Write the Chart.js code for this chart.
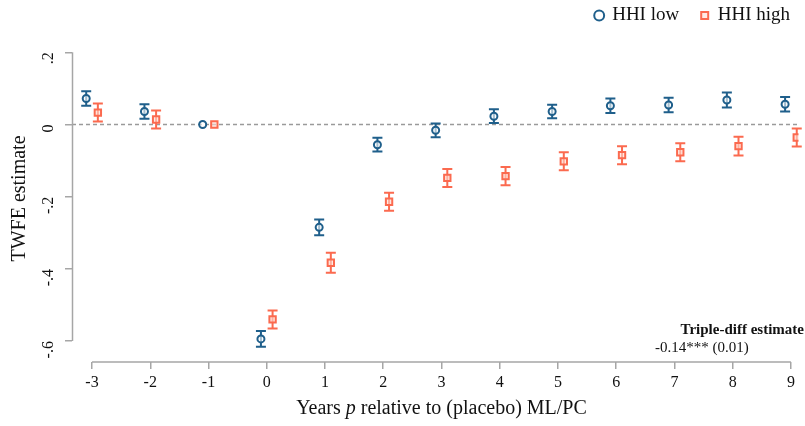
<!DOCTYPE html>
<html>
<head>
<meta charset="utf-8">
<script src="https://cdn.jsdelivr.net/npm/chart.js@4"></script>
<style>
  html, body { margin: 0; padding: 0; background: #fff; }
  #wrap { width: 805px; height: 426px; }
</style>
</head>
<body>
<div id="wrap"><canvas id="evtCanvas"></canvas></div>
<script>
const years = [-3, -2, -1, 0, 1, 2, 3, 4, 5, 6, 7, 8, 9];

// HHI low
const lowEst = [0.072, 0.036, 0, -0.594, -0.285, -0.056, -0.016, 0.023, 0.036, 0.052, 0.054, 0.068, 0.056];
const lowLo = [0.052, 0.016, 0, -0.616, -0.307, -0.075, -0.035, 0.004, 0.017, 0.032, 0.034, 0.047, 0.036];
const lowHi = [0.092, 0.056, 0, -0.572, -0.263, -0.037, 0.003, 0.042, 0.055, 0.072, 0.074, 0.089, 0.076];

// HHI high
const highEst = [0.033, 0.014, 0, -0.540, -0.383, -0.214, -0.148, -0.143, -0.102, -0.085, -0.077, -0.060, -0.036];
const highLo = [0.008, -0.011, 0, -0.565, -0.411, -0.239, -0.173, -0.168, -0.127, -0.110, -0.102, -0.086, -0.061];
const highHi = [0.058, 0.039, 0, -0.515, -0.355, -0.189, -0.123, -0.118, -0.077, -0.060, -0.052, -0.034, -0.011];

const xTicks = [-3, -2, -1, 0, 1, 2, 3, 4, 5, 6, 7, 8, 9];
const yTicks = [0.2, 0, -0.2, -0.4, -0.6];
const yTickLabels = [".2", "0", "-.2", "-.4", "-.6"];

const BLUE = "#1f5f8b";
const RED = "#fb6a4f";
const GREY = "#a6a6a6";
const SERIF = "'Liberation Serif', 'DejaVu Serif', serif";

const errorBars = {
  id: "errorBars",
  beforeDatasetsDraw(chart) {
    const { ctx, scales: { x, y }, chartArea } = chart;
    ctx.save();
    // zero line
    ctx.strokeStyle = "#9a9a9a";
    ctx.lineWidth = 1.3;
    ctx.setLineDash([4, 3]);
    ctx.beginPath();
    ctx.moveTo(chartArea.left, y.getPixelForValue(0));
    ctx.lineTo(Math.min(chartArea.right, chart.width - 5), y.getPixelForValue(0));
    ctx.stroke();
    ctx.setLineDash([]);

    chart.data.datasets.forEach((ds) => {
      ctx.strokeStyle = ds.borderColor;
      ctx.lineWidth = 2;
      ds.data.forEach((p) => {
        if (p.lo === p.hi) return;
        const px = x.getPixelForValue(p.x);
        const y1 = y.getPixelForValue(p.lo);
        const y2 = y.getPixelForValue(p.hi);
        ctx.beginPath();
        ctx.moveTo(px, y1);
        ctx.lineTo(px, y2);
        ctx.moveTo(px - 5, y1);
        ctx.lineTo(px + 5, y1);
        ctx.moveTo(px - 5, y2);
        ctx.lineTo(px + 5, y2);
        ctx.stroke();
      });
    });
    ctx.restore();
  },
  afterDraw(chart) {
    const { ctx, scales: { x, y }, chartArea } = chart;
    ctx.save();

    // axis lines only across the tick range
    const ax = Math.round(chartArea.left) + 0.5;
    ctx.strokeStyle = GREY;
    ctx.lineWidth = 1.5;
    ctx.beginPath();
    ctx.moveTo(ax, y.getPixelForValue(yTicks[0]));
    ctx.lineTo(ax, y.getPixelForValue(yTicks[yTicks.length - 1]));
    ctx.moveTo(x.getPixelForValue(xTicks[0]), chartArea.bottom);
    ctx.lineTo(x.getPixelForValue(xTicks[xTicks.length - 1]), chartArea.bottom);
    ctx.stroke();

    ctx.fillStyle = "#111";
    ctx.textBaseline = "middle";

    // x title with italic p
    const parts = [
      ["Years ", "20px " + SERIF],
      ["p", "italic 20px " + SERIF],
      [" relative to (placebo) ML/PC", "20px " + SERIF],
    ];
    let total = 0;
    parts.forEach(([t, f]) => { ctx.font = f; total += ctx.measureText(t).width; });
    let cx = (x.getPixelForValue(xTicks[0]) + x.getPixelForValue(xTicks[xTicks.length - 1])) / 2 - total / 2;
    ctx.textAlign = "left";
    parts.forEach(([t, f]) => {
      ctx.font = f;
      ctx.fillText(t, cx, 409);
      cx += ctx.measureText(t).width;
    });

    // triple-diff note
    ctx.textAlign = "right";
    ctx.font = "bold 15px " + SERIF;
    ctx.fillText("Triple-diff estimate", chart.width - 1, 330);
    ctx.textAlign = "left";
    ctx.font = "15px " + SERIF;
    ctx.fillText("-0.14*** (0.01)", 655, 348);
    ctx.restore();
  },
};

const config = {
  type: "scatter",
  data: {
    datasets: [
      {
        label: "HHI low",
        data: years.map((yr, i) => ({ x: yr - 0.1, y: lowEst[i], lo: lowLo[i], hi: lowHi[i] })),
        borderColor: BLUE,
        backgroundColor: "rgba(255,255,255,0.6)",
        pointStyle: "circle",
        pointRadius: 3.5,
        pointBorderWidth: 2,
      },
      {
        label: "HHI high",
        data: years.map((yr, i) => ({ x: yr + 0.1, y: highEst[i], lo: highLo[i], hi: highHi[i] })),
        borderColor: RED,
        backgroundColor: "rgba(255,220,210,0.6)",
        pointStyle: "rect",
        pointRadius: 4.5,
        pointBorderWidth: 2,
      },
    ],
  },
  options: {
    responsive: true,
    maintainAspectRatio: false,
    animation: false,
    layout: { padding: { left: 0, right: -7, top: -16, bottom: 0 } },
    plugins: {
      tooltip: { enabled: false },
      legend: {
        position: "top",
        align: "end",
        labels: {
          usePointStyle: true,
          boxWidth: 7,
          boxHeight: 7,
          padding: 22,
          color: "#111",
          font: { family: SERIF, size: 19 },
        },
      },
    },
    scales: {
      x: {
        type: "linear",
        min: -3.344,
        max: 9.13,
        afterBuildTicks: (scale) => { scale.ticks = xTicks.map((v) => ({ value: v })); },
        afterFit: (scale) => { scale.height = 64; },
        border: { display: false },
        grid: { drawOnChartArea: false, drawTicks: true, tickLength: 7, color: GREY, lineWidth: 1.5 },
        ticks: {
          color: "#111",
          padding: 4,
          maxRotation: 0,
          font: { family: SERIF, size: 16 },
          callback: (v) => String(v),
        },
      },
      y: {
        min: -0.658,
        max: 0.248,
        afterBuildTicks: (scale) => { scale.ticks = yTicks.map((v) => ({ value: v })); },
        afterFit: (scale) => { scale.width = 72; },
        border: { display: false },
        grid: { drawOnChartArea: false, drawTicks: true, tickLength: 7, color: GREY, lineWidth: 1.5 },
        title: {
          display: true,
          text: "TWFE estimate",
          color: "#111",
          font: { family: SERIF, size: 20 },
          padding: { top: 8, bottom: 0 },
        },
        ticks: {
          color: "#111",
          padding: 16,
          minRotation: 90,
          maxRotation: 90,
          font: { family: SERIF, size: 16 },
          callback: (v, i) => yTickLabels[i],
        },
      },
    },
  },
  plugins: [errorBars],
};

new Chart(document.getElementById("evtCanvas"), config);
</script>
</body>
</html>
